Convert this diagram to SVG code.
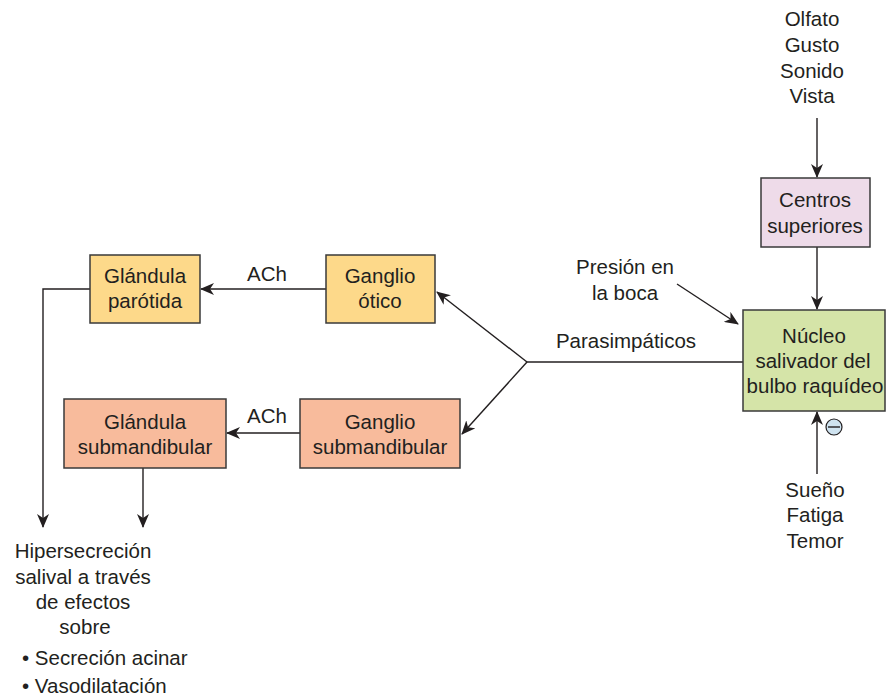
<svg xmlns="http://www.w3.org/2000/svg" width="886" height="699" viewBox="0 0 886 699">
<defs>
<style>
text{font-family:"Liberation Sans",Arial,sans-serif;font-size:20.5px;fill:#231f20;text-anchor:middle}
.box{stroke:#3a3a3a;stroke-width:1.5}
.yel{fill:#fdd98a}
.sal{fill:#f8bb9c}
.pink{fill:#eedbe9}
.grn{fill:#d5e4a8}
.ln{stroke:#231f20;stroke-width:1.4;fill:none}
.l{text-anchor:start}
</style>
<marker id="ah" markerUnits="userSpaceOnUse" markerWidth="14" markerHeight="12" viewBox="0 0 14 12" refX="13" refY="6" orient="auto">
<path d="M0,0 L14,6 L0,12 L4,6 Z" fill="#231f20"/>
</marker>
</defs>
<rect width="886" height="699" fill="#ffffff"/>

<g id="connectors">
<line class="ln" x1="817" y1="118" x2="817" y2="177" marker-end="url(#ah)"/>
<line class="ln" x1="817" y1="247" x2="817" y2="309" marker-end="url(#ah)"/>
<line class="ln" x1="817" y1="474" x2="817" y2="412" marker-end="url(#ah)"/>
<line class="ln" x1="677" y1="284" x2="738" y2="324" marker-end="url(#ah)"/>
<polyline class="ln" points="743,362 527,362"/>
<line class="ln" x1="527" y1="362" x2="437" y2="292" marker-end="url(#ah)"/>
<line class="ln" x1="527" y1="362" x2="462" y2="434" marker-end="url(#ah)"/>
<line class="ln" x1="326" y1="289" x2="201" y2="289" marker-end="url(#ah)"/>
<line class="ln" x1="300" y1="433" x2="227" y2="433" marker-end="url(#ah)"/>
<polyline class="ln" points="90,289 43,289 43,527" marker-end="url(#ah)"/>
<line class="ln" x1="143" y1="468" x2="143" y2="527" marker-end="url(#ah)"/>
<text x="267" y="281">ACh</text>
<text x="267" y="423">ACh</text>
<text x="626" y="348">Parasimpáticos</text>
</g>

<g id="inputs-top">
<text x="812" y="26">Olfato</text>
<text x="812" y="52">Gusto</text>
<text x="812" y="78">Sonido</text>
<text x="812" y="103">Vista</text>
</g>

<g id="centros-superiores">
<rect class="box pink" x="761" y="178" width="109" height="69"/>
<text x="815" y="207">Centros</text>
<text x="815" y="233">superiores</text>
</g>

<g id="presion">
<text x="625" y="274">Presión en</text>
<text x="625" y="300">la boca</text>
</g>

<g id="nucleo">
<rect class="box grn" x="743" y="310" width="142" height="101"/>
<text x="814" y="343">Núcleo</text>
<text x="813" y="368">salivador del</text>
<text x="815" y="393">bulbo raquídeo</text>
</g>

<g id="inhibicion">
<circle cx="834" cy="427" r="8" fill="#cfe3f0" stroke="#231f20" stroke-width="1.2"/>
<line x1="828" y1="427" x2="840" y2="427" stroke="#231f20" stroke-width="1.4"/>
</g>

<g id="inputs-bottom">
<text x="815" y="497">Sueño</text>
<text x="815" y="522">Fatiga</text>
<text x="815" y="548">Temor</text>
</g>

<g id="ganglio-otico">
<rect class="box yel" x="326" y="255" width="109" height="68"/>
<text x="380" y="283">Ganglio</text>
<text x="380" y="308">ótico</text>
</g>

<g id="glandula-parotida">
<rect class="box yel" x="90" y="255" width="110" height="68"/>
<text x="145" y="283">Glándula</text>
<text x="145" y="308">parótida</text>
</g>

<g id="ganglio-submandibular">
<rect class="box sal" x="300" y="399" width="160" height="69"/>
<text x="380" y="429">Ganglio</text>
<text x="380" y="454">submandibular</text>
</g>

<g id="glandula-submandibular">
<rect class="box sal" x="64" y="399" width="162" height="69"/>
<text x="145" y="429">Glándula</text>
<text x="145" y="454">submandibular</text>
</g>

<g id="resultado">
<text x="83" y="558">Hipersecreción</text>
<text x="83" y="584">salival a través</text>
<text x="83" y="609">de efectos</text>
<text x="85" y="634">sobre</text>
<text class="l" x="22" y="665">• Secreción acinar</text>
<text class="l" x="22" y="693">• Vasodilatación</text>
</g>
</svg>
